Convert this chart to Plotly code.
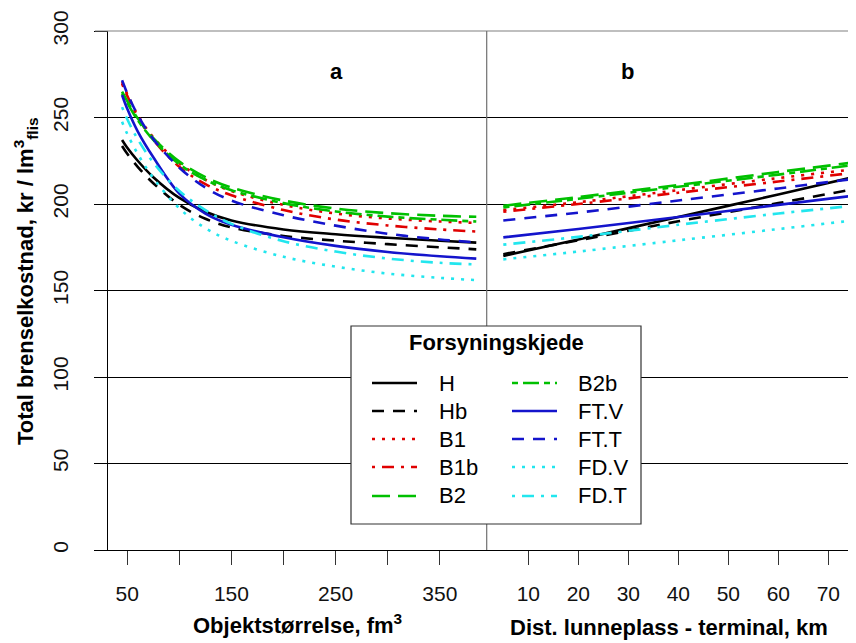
import plotly.graph_objects as go

# ---------------- data ----------------
series_names = ["H", "Hb", "B1", "B1b", "B2", "B2b", "FT.V", "FT.T", "FD.V", "FD.T"]

# panel a: object size (fm3)
size_x = [45, 50, 60, 75, 100, 125, 150, 200, 250, 300, 350, 385]
size_H    = [237.0, 232.5, 225.0, 215.5, 203.5, 195.5, 190.5, 185.3, 182.5, 180.5, 178.8, 177.7]
size_Hb   = [233.5, 229.0, 221.5, 212.0, 199.5, 191.5, 186.5, 181.5, 178.8, 176.8, 175.0, 173.8]
size_B1   = [270.5, 263.5, 251.5, 238.5, 223.5, 214.0, 207.5, 199.5, 194.5, 191.6, 189.9, 189.1]
size_B1b  = [269.5, 262.5, 250.5, 237.0, 221.5, 211.5, 205.0, 196.5, 191.0, 187.6, 185.3, 184.1]
size_B2   = [265.0, 259.5, 249.5, 238.0, 224.5, 215.5, 209.5, 202.0, 197.4, 194.7, 193.2, 192.6]
size_B2b  = [264.0, 258.5, 248.5, 237.0, 223.0, 214.0, 208.0, 200.5, 195.7, 192.7, 190.9, 189.9]
size_FTV  = [263.0, 255.0, 242.0, 227.0, 206.0, 194.5, 188.0, 180.8, 175.8, 172.3, 169.8, 168.4]
size_FTT  = [271.5, 264.0, 251.5, 237.5, 221.0, 209.5, 202.0, 193.5, 187.5, 182.8, 179.5, 177.8]
size_FDV  = [247.5, 240.5, 229.0, 215.0, 197.5, 186.0, 178.7, 169.5, 163.8, 159.8, 157.3, 156.0]
size_FDT  = [256.0, 249.0, 237.5, 224.0, 207.5, 196.5, 188.5, 178.5, 172.5, 168.5, 166.0, 165.1]

# panel b: distance landing - terminal (km)
dist_x = [5, 20, 40, 60, 75]
dist_H    = [170.0, 179.5, 192.5, 205.5, 215.5]
dist_Hb   = [171.0, 179.0, 190.0, 200.5, 208.5]
dist_B1   = [196.5, 201.0, 208.0, 215.0, 220.0]
dist_B1b  = [195.5, 200.0, 206.5, 213.0, 218.0]
dist_B2   = [199.0, 204.0, 211.0, 218.5, 224.0]
dist_B2b  = [198.0, 203.0, 210.0, 217.0, 222.5]
dist_FTV  = [180.7, 185.5, 192.5, 199.5, 204.8]
dist_FTT  = [190.5, 195.0, 202.0, 209.0, 214.5]
dist_FDV  = [168.0, 172.5, 179.0, 185.5, 190.5]
dist_FDT  = [176.5, 181.0, 188.0, 194.5, 199.0]

size_ticks = [50, 150, 250, 350]
size_minor_ticks = [100, 200, 300]
dist_ticks = [10, 20, 30, 40, 50, 60, 70]
y_ticks = [0, 50, 100, 150, 200, 250, 300]

size_vals = [size_H, size_Hb, size_B1, size_B1b, size_B2, size_B2b, size_FTV, size_FTT, size_FDV, size_FDT]
dist_vals = [dist_H, dist_Hb, dist_B1, dist_B1b, dist_B2, dist_B2b, dist_FTV, dist_FTT, dist_FDV, dist_FDT]

# ---------------- styles ----------------
BLACK = "#000000"
RED = "#E00000"
GREEN = "#00C000"
BLUE = "#1414CC"
CYAN = "#22E6EE"
DASHED = "12px,9px"
DOTTED = "3px,7px"
DOTDASH = "3px,7px,12px,7px"
LONGDASH = "18px,8px"
TWODASH = "6px,5px,16px,5px"
styles = {
    "H": (BLACK, "solid"), "Hb": (BLACK, DASHED),
    "B1": (RED, DOTTED), "B1b": (RED, DOTDASH),
    "B2": (GREEN, LONGDASH), "B2b": (GREEN, TWODASH),
    "FT.V": (BLUE, "solid"), "FT.T": (BLUE, DASHED),
    "FD.V": (CYAN, DOTTED), "FD.T": (CYAN, DOTDASH),
}
LW = 2.6
FONT = "Liberation Sans, Arial, sans-serif"

# page coordinates (browser window) of the reference; the figure div sits at an 8px body offset
OFF = 8
PAGE_W, PAGE_H = 856, 643
W, H = PAGE_W - OFF, PAGE_H - OFF
PLOT_L, PLOT_R, PLOT_T, PLOT_B = 108, 856, 31, 550   # page px
L, R, T, B = PLOT_L - OFF, PAGE_W - PLOT_R, PLOT_T - OFF, PAGE_H - PLOT_B
PW, PH = PLOT_R - PLOT_L, PLOT_B - PLOT_T
DIV = 486.7


def px(xp):
    return (xp - PLOT_L) / PW


def py(yp):
    return (PLOT_B - yp) / PH


fig = go.Figure()
for name, yv in zip(series_names, size_vals):
    c, d = styles[name]
    fig.add_trace(go.Scatter(x=size_x, y=yv, mode="lines", name=name,
                             line=dict(color=c, dash=d, width=LW, shape="spline", smoothing=1.0),
                             xaxis="x", yaxis="y", showlegend=False))
for name, yv in zip(series_names, dist_vals):
    c, d = styles[name]
    fig.add_trace(go.Scatter(x=dist_x, y=yv, mode="lines", name=name,
                             line=dict(color=c, dash=d, width=LW, shape="spline", smoothing=0.6),
                             xaxis="x2", yaxis="y", showlegend=False))

tickfont = dict(family=FONT, size=21, color="#111111")
split = px(DIV)
common_x = dict(ticks="outside", ticklen=14, tickcolor="#333333", tickwidth=1,
                showgrid=False, zeroline=False, showline=True, linecolor=BLACK, linewidth=1,
                tickfont=tickfont, ticklabelstandoff=11, fixedrange=True, anchor="y")
fig.update_layout(
    width=W, height=H,
    margin=dict(l=L, r=R, t=T, b=B, pad=0),
    paper_bgcolor="white", plot_bgcolor="white",
    xaxis=dict(domain=[0, split], range=[31.5, 395], tickmode="array", tickvals=size_ticks,
               ticktext=[str(v) for v in size_ticks],
               minor=dict(tickmode="array", tickvals=size_minor_ticks, ticks="outside", ticklen=14,
                          tickcolor="#333333", tickwidth=1, showgrid=False),
               **common_x),
    xaxis2=dict(domain=[split, 1], range=[1.68, 75.54], tickmode="array", tickvals=dist_ticks,
                ticktext=[str(v) for v in dist_ticks], **common_x),
    yaxis=dict(domain=[0, 1], range=[0, 300], tickmode="array", tickvals=y_ticks,
               ticktext=[str(v) for v in y_ticks], ticks="outside", ticklen=13,
               tickcolor=BLACK, showgrid=True, gridcolor=BLACK, gridwidth=1, zeroline=False,
               showline=True, linecolor=BLACK, linewidth=1, tickangle=-90, tickfont=tickfont,
               ticklabelstandoff=18, anchor="x", fixedrange=True),
    showlegend=False,
)

shapes = []
# top border and divider (grey)
shapes.append(dict(type="line", xref="paper", yref="paper", x0=px(95), x1=1, y0=1, y1=1,
                   line=dict(color="#808080", width=1.2), layer="above"))
shapes.append(dict(type="line", xref="paper", yref="paper", x0=split, x1=split, y0=0, y1=1,
                   line=dict(color="#707070", width=1.2), layer="above"))
# legend box
lx0, lx1, ly0, ly1 = 351, 641, 326, 524
shapes.append(dict(type="rect", xref="paper", yref="paper", x0=px(lx0), x1=px(lx1), y0=py(ly1), y1=py(ly0),
                   fillcolor="white", line=dict(color="#333333", width=1.2), layer="above"))

annotations = []
annotations.append(dict(text="<b>Forsyningskjede</b>", xref="paper", yref="paper", x=px(496), y=py(342),
                        xanchor="center", yanchor="middle", showarrow=False,
                        font=dict(family=FONT, size=22, color=BLACK)))
rows_y = [383, 411, 439, 467, 496]
cols = [(372, 417, 437), (512, 557, 576)]
for i, name in enumerate(series_names):
    col, row = divmod(i, 5)
    x0, x1, xt = cols[col]
    yy = rows_y[row]
    c, d = styles[name]
    shapes.append(dict(type="line", xref="paper", yref="paper", x0=px(x0), x1=px(x1), y0=py(yy), y1=py(yy),
                       line=dict(color=c, dash=d, width=LW), layer="above"))
    annotations.append(dict(text=name, xref="paper", yref="paper", x=px(xt), y=py(yy),
                            xanchor="left", yanchor="middle", showarrow=False,
                            font=dict(family=FONT, size=22, color=BLACK)))

# panel letters
annotations.append(dict(text="<b>a</b>", xref="paper", yref="paper", x=px(336), y=py(71),
                        xanchor="center", yanchor="middle", showarrow=False,
                        font=dict(family=FONT, size=22, color=BLACK)))
annotations.append(dict(text="<b>b</b>", xref="paper", yref="paper", x=px(627), y=py(71),
                        xanchor="center", yanchor="middle", showarrow=False,
                        font=dict(family=FONT, size=22, color=BLACK)))
# axis titles
annotations.append(dict(text="<b>Objektstørrelse, fm<sup>3</sup></b>", xref="paper", yref="paper",
                        x=px(297), y=py(624), xanchor="center", yanchor="middle", showarrow=False,
                        font=dict(family=FONT, size=22, color=BLACK)))
annotations.append(dict(text="<b>Dist. lunneplass - terminal, km</b>", xref="paper", yref="paper",
                        x=px(669), y=py(627), xanchor="center", yanchor="middle", showarrow=False,
                        font=dict(family=FONT, size=22, color=BLACK)))
annotations.append(dict(text="<b>Total brenselkostnad, kr / lm<sup>3</sup><sub>flis</sub></b>",
                        xref="paper", yref="paper", x=px(25), y=py(282), textangle=-90,
                        xanchor="center", yanchor="middle", showarrow=False,
                        font=dict(family=FONT, size=22, color=BLACK)))

fig.update_layout(shapes=shapes, annotations=annotations)
fig.write_html("out.html")
